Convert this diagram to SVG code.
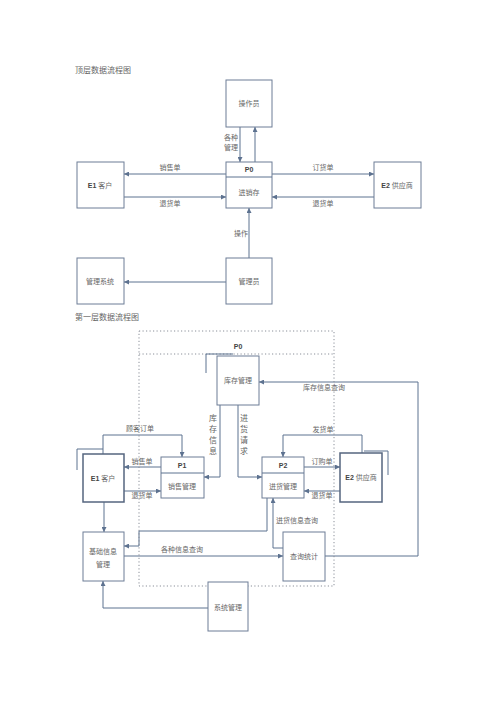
<svg xmlns="http://www.w3.org/2000/svg" width="500" height="708" viewBox="0 0 500 708">
<defs>
<marker id="ah" markerUnits="userSpaceOnUse" markerWidth="5" markerHeight="5" refX="5" refY="2.5" orient="auto">
<path d="M0,0 L5,2.5 L0,5 z" fill="#5d7290"/>
</marker>
<style>
.box{fill:#fff;stroke:#6d7d96;stroke-width:1}
.boxb{fill:#fff;stroke:#55657f;stroke-width:1.5}
.ln{fill:none;stroke:#5d7290;stroke-width:1}
.arr{fill:none;stroke:#5d7290;stroke-width:1;marker-end:url(#ah)}
.dot{fill:none;stroke:#8a8f99;stroke-width:1;stroke-dasharray:1.2,2.3}
text{font-family:"Liberation Serif","Noto Sans CJK SC",serif;font-size:7px;fill:#666;text-anchor:middle}
.id{font-family:"Liberation Sans","Noto Sans CJK SC",sans-serif;font-weight:bold;fill:#444}
.ttl{font-size:8px;text-anchor:start}
.v{font-size:8px}
</style>
</defs>
<rect width="500" height="708" fill="#fff"/>

<text class="ttl" x="75" y="73">顶层数据流程图</text>
<text class="ttl" x="75" y="320">第一层数据流程图</text>

<g id="connectors">
<!-- top level -->
<line class="arr" x1="240" y1="127" x2="240" y2="162"/>
<line class="arr" x1="255" y1="162" x2="255" y2="127"/>
<line class="arr" x1="226" y1="174" x2="124" y2="174"/>
<line class="arr" x1="124" y1="197" x2="226" y2="197"/>
<line class="arr" x1="272" y1="174" x2="374" y2="174"/>
<line class="arr" x1="374" y1="197" x2="272" y2="197"/>
<line class="arr" x1="249" y1="258" x2="249" y2="208"/>
<line class="arr" x1="226" y1="282" x2="124" y2="282"/>
<text x="231" y="140">各种</text>
<text x="231" y="150">管理</text>
<text x="170" y="170">销售单</text>
<text x="170" y="206">退货单</text>
<text x="323" y="170">订货单</text>
<text x="323" y="206">退货单</text>
<text x="241" y="236">操作</text>

<!-- first level -->
<polyline class="arr" points="103,454 103,435 182,435 182,457"/>
<line class="arr" x1="161" y1="467" x2="124" y2="467"/>
<line class="arr" x1="124" y1="491" x2="161" y2="491"/>
<polyline class="arr" points="220,405 220,477 204,477"/>
<polyline class="arr" points="238,405 238,477 262,477"/>
<polyline class="arr" points="325,556 418,556 418,382 259,382"/>
<polyline class="arr" points="362,453 362,435 283,435 283,457"/>
<line class="arr" x1="304" y1="467" x2="340" y2="467"/>
<line class="arr" x1="340" y1="491" x2="304" y2="491"/>
<polyline class="arr" points="283,548 273,548 273,498"/>
<polyline class="arr" points="267,498 267,531 139,531 139,546 124,546"/>
<line class="arr" x1="124" y1="556" x2="283" y2="556"/>
<line class="arr" x1="104" y1="502" x2="104" y2="532"/>
<polyline class="arr" points="208,608 103,608 103,581"/>

<text x="140" y="431">顾客订单</text>
<text x="142" y="464">销售单</text>
<text x="142" y="498">退货单</text>
<text class="v" x="213" y="421">库</text>
<text class="v" x="213" y="432">存</text>
<text class="v" x="213" y="443">信</text>
<text class="v" x="213" y="454">息</text>
<text class="v" x="244" y="421">进</text>
<text class="v" x="244" y="432">货</text>
<text class="v" x="244" y="443">请</text>
<text class="v" x="244" y="454">求</text>
<text x="324" y="390">库存信息查询</text>
<text x="323" y="432">发货单</text>
<text x="322" y="464">订购单</text>
<text x="322" y="498">退货单</text>
<text x="297" y="523">进货信息查询</text>
<text x="182" y="552">各种信息查询</text>
</g>

<!-- dotted P0 boundary -->
<g id="boundary">
<rect class="dot" x="139" y="331" width="195" height="255"/>
<line class="dot" x1="139" y1="354" x2="334" y2="354"/>
<text class="id" x="238" y="349">P0</text>
</g>

<g id="n-operator"><rect class="box" x="226" y="80" width="46" height="47"/><text x="249" y="106">操作员</text></g>
<g id="n-p0"><rect class="box" x="226" y="162" width="46" height="46"/><line class="ln" x1="226" y1="177" x2="272" y2="177"/><text class="id" x="249" y="172">P0</text><text x="249" y="195">进销存</text></g>
<g id="n-e1-top"><rect class="box" x="77" y="162" width="47" height="46"/><text x="100" y="188"><tspan class="id">E1 </tspan>客户</text></g>
<g id="n-e2-top"><rect class="box" x="374" y="162" width="47" height="46"/><text x="397" y="188"><tspan class="id">E2 </tspan>供应商</text></g>
<g id="n-mgmtsys"><rect class="box" x="77" y="258" width="47" height="46"/><text x="100" y="284">管理系统</text></g>
<g id="n-admin"><rect class="box" x="226" y="258" width="46" height="46"/><text x="249" y="284">管理员</text></g>

<g id="n-stock"><polyline class="ln" points="206,373 206,354 233,354"/><rect class="box" x="217" y="356" width="42" height="49"/><text x="238" y="383">库存管理</text></g>
<g id="n-e1"><polyline class="ln" points="77,470 77,449 103,449"/><rect class="boxb" x="83" y="454" width="41" height="48"/><text x="103" y="481"><tspan class="id">E1 </tspan>客户</text></g>
<g id="n-p1"><rect class="box" x="161" y="457" width="43" height="41"/><line class="ln" x1="161" y1="473" x2="204" y2="473"/><text class="id" x="182" y="468">P1</text><text x="182" y="489">销售管理</text></g>
<g id="n-p2"><rect class="box" x="262" y="457" width="42" height="41"/><line class="ln" x1="262" y1="473" x2="304" y2="473"/><text class="id" x="283" y="468">P2</text><text x="283" y="489">进货管理</text></g>
<g id="n-e2"><polyline class="ln" points="364,451 388,451 388,475"/><rect class="boxb" x="340" y="453" width="42" height="49"/><text x="361" y="480"><tspan class="id">E2 </tspan>供应商</text></g>
<g id="n-query"><rect class="box" x="283" y="532" width="42" height="49"/><text x="304" y="559">查询统计</text></g>
<g id="n-basic"><rect class="box" x="83" y="532" width="41" height="49"/><text x="103" y="554">基础信息</text><text x="103" y="567">管理</text></g>
<g id="n-sysmgmt"><rect class="box" x="208" y="582" width="40" height="49"/><text x="228" y="610">系统管理</text></g>
</svg>
